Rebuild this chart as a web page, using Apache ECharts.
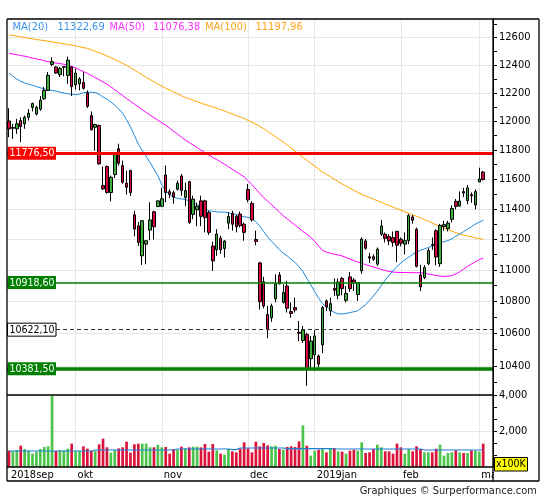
<!DOCTYPE html>
<html><head><meta charset="utf-8">
<script src="https://cdn.jsdelivr.net/npm/echarts@6/dist/echarts.min.js"></script>
<style>html,body{margin:0;padding:0;background:#fff}#c{width:545px;height:500px}</style>
</head><body><div id="c"></div>
<script>
const FONT = "'DejaVu Sans Condensed','Liberation Sans',sans-serif";
const monthNames = ['jan','feb','mar','apr','mei','jun','jul','aug','sep','okt','nov','dec'];
const tradingDays = [
  ['2018-09',[6,7,10,11,12,13,14,17,18,19,20,21,24,25,26,27,28]],
  ['2018-10',[1,2,4,5,8,9,10,11,12,15,16,17,18,19,22,23,24,25,26,29,30,31]],
  ['2018-11',[1,2,5,6,7,8,9,12,13,14,15,16,19,20,21,22,23,26,27,28,29,30]],
  ['2018-12',[3,4,5,6,7,10,11,12,13,14,17,18,19,20,21,27,28]],
  ['2019-01',[2,3,4,7,8,9,10,11,14,15,16,17,18,21,22,23,24,25,28,29,30,31]],
  ['2019-02',[1,4,5,6,7,8,11,12,13,14,15,18,19,20,21,22,25,26,27,28]],
  ['2019-03',[1,4]]
];
const opens = [12000,11950,11946,12004,11981,12027,12096,12050,12084,12158,
12217,12404,12386,12330,12383,12325,12386,12257,12264,12274,
12200,12039,11957,11969,11556,11685,11509,11631,11807,11692,
11572,11658,11360,11287,11091,11167,11259,11380,11415,11417,
11628,11515,11508,11531,11621,11476,11582,11363,11394,11453,
11453,11376,11154,11130,11206,11138,11305,11369,11349,11365,
11298,11529,11436,11197,11045,10924,10716,10696,10815,10967,
10793,10897,10735,10760,10606,10555,10592,10443,10467,10460,
10528,10802,10739,10881,10838,10945,10806,10955,10935,10843,
10994,11188,11085,11085,11037,11232,11232,11216,11210,11251,
11199,11167,11190,11346,11264,10967,10951,11040,11165,11255,
11040,11282,11268,11330,11450,11418,11515,11455,11495,11425,
11580,11647];
const closes = [11945,11955,11981,11962,12027,12055,12124,12096,12147,12217,
12325,12424,12342,12374,12388,12435,12244,12342,12300,12232,
12104,11939,11976,11704,11534,11509,11612,11768,11708,11579,
11545,11509,11266,11178,11321,11189,11326,11281,11453,11467,
11509,11497,11478,11571,11522,11522,11309,11465,11417,11350,
11341,11244,11058,11233,11130,11187,11349,11298,11281,11288,
11244,11460,11326,11185,10797,10770,10622.1,10770,10911,10911,
10856,10756,10723,10745,10600,10620,10381.5,10552,10583,10410,
10760,10765,10785,10870,10922,10880,10850,10880,10918,10918.6,
11200,11140,11076,11069,11134,11286,11205,11188,11178,11160,
11173,11189,11355,11324,11023,10891,11016,11126,11160,11083,
11290,11295,11305,11402,11416,11452,11505,11540,11487,11515,
11600,11597];
const highs = [12090,11980,12016,12027,12039,12084,12131,12108,12177,12241,
12349,12456,12391,12386,12391,12460,12391,12374,12313,12349,
12217,12068,11981,11976,11685,11692,11624,11783,11842,11726,
11658,11663,11387,11313,11326,11193,11443,11387,11454,11541,
11692,11531,11522,11589,11635,11576,11589,11488,11441,11488,
11460,11387,11183,11265,11222,11193,11376,11387,11360,11382,
11309,11567,11450,11255,11052,10955,10770,10785,10972,10986,
10907,10929,10793,10823,10676,10645,10603,10583,10620,10470,
10770,10812,10823,10945,10945,10955,10897,10986,10948,10922,
11211,11200,11110,11101,11145,11325,11243,11232,11250,11253,
11210,11243,11366,11360,11275,11032,11031,11140,11210,11264,
11300,11320,11320,11422,11466,11516,11540,11560,11510,11530,
11677,11655];
const lows = [11888,11876,11911,11853,11946,12004,12068,12039,12073,12149,
12212,12391,12337,12313,12318,12264,12177,12223,12217,12223,
12092,11934,11795,11698,11525,11502,11450,11607,11692,11568,
11496,11486,11218,11154,11032,11036,11193,11197,11411,11411,
11443,11471,11434,11522,11488,11417,11298,11331,11285,11285,
11244,11227,10993,11091,11104,11080,11265,11255,11244,11276,
11189,11443,11315,11159,10749,10755,10570,10671,10793,10907,
10785,10729,10696,10729,10551,10540,10279,10380,10368,10390,
10478,10740,10707,10833,10812,10838,10793,10860,10865,10802,
10975,11130,11045,11058,11026,11220,11178,11160,11150,11050,
11152,11100,11167,11301,11016,10864,10941,11030,11130,11030,
11020,11255,11250,11310,11396,11416,11478,11430,11440,11396,
11580,11590];
const volumes = [907,870,944,1185,1000,907,741,852,1000,1111,
1148,3950,889,944,907,1019,1296,889,889,1148,
1019,889,889,1259,1574,1093,796,944,1037,1093,
1407,796,1259,1296,1296,1296,1093,1093,1241,1093,
1111,741,1000,963,1130,1037,1093,1130,1130,1093,
1278,852,1278,926,741,685,1000,870,815,1019,
1370,1037,815,1407,1148,1333,1200,1150,1180,1000,
963,1111,1148,1111,1426,2315,1185,630,907,963,
1019,815,1056,1056,870,852,741,907,963,907,
1370,778,815,1000,1241,1093,870,870,741,1296,
1093,741,1000,870,1148,1000,815,815,815,1019,
1241,630,778,815,926,815,778,778,926,907,
852,1296];
const volumeAvg = [889,889,889,889,889,889,889,889,889,889,
889,889,889,889,889,889,889,889,889,889,
889,889,944,944,944,944,944,944,944,944,
944,944,944,944,944,944,944,944,944,944,
944,944,944,1000,1000,1000,1000,1000,1000,1000,
1000,1000,1000,1000,1000,1000,1000,963,963,1056,
1056,1056,1056,1056,1056,1056,1056,1056,1056,1056,
1056,1019,1019,1019,1019,1019,1019,1019,1019,1019,
1019,1019,1019,1000,1000,1000,1000,1000,1000,1000,
1000,1000,1000,1000,1000,1000,1000,1000,1000,1000,
1000,1000,1000,1000,1000,1000,944,944,944,944,
944,944,944,944,944,944,944,944,944,944,
944,944];
const ma20 = [12341,12320,12298,12282,12270,12262,12254,12245,12236,12228,
12222,12217,12212,12205,12198,12193,12190,12187,12192,12200,
12204,12204,12202,12190,12170,12155,12135,12112,12086,12055,
12010,11960,11900,11840,11795,11755,11712,11668,11622,11560,
11522,11495,11478,11470,11466,11463,11452,11440,11428,11414,
11400,11388,11383,11380,11378,11378,11374,11368,11360,11352,
11347,11343,11334,11315,11285,11250,11215,11185,11160,11130,
11108,11090,11068,11048,11020,10990,10945,10905,10862,10820,
10785,10765,10745,10730,10721,10720,10723,10729,10734,10740,
10760,10778,10805,10835,10865,10900,10935,10965,10995,11022,
11045,11065,11082,11100,11115,11127,11136,11145,11155,11165,
11175,11183,11190,11202,11218,11233,11249,11265,11282,11298,
11312,11322.69];
const ma50 = [12486,12480,12475,12469,12464,12458,12451,12444,12438,12431,
12424,12419,12414,12410,12405,12400,12390,12378,12365,12353,
12340,12325,12309,12294,12278,12262,12242,12222,12201,12181,
12160,12140,12120,12100,12080,12060,12042,12024,12006,11988,
11970,11950,11929,11909,11888,11868,11850,11833,11815,11798,
11780,11764,11748,11733,11717,11701,11684,11667,11649,11632,
11615,11590,11562,11533,11504,11475,11451,11427,11403,11378,
11354,11333,11312,11292,11271,11250,11232,11212,11185,11155,
11126,11115,11108,11102,11096,11090,11080,11070,11060,11051,
11042,11034,11026,11018,11011,11003,10996,10990,10986,10984,
10983,10983,10983,10982,10982,10982,10978,10973,10969,10964,
10960,10958,10960,10963,10974,10988,11005,11022,11038,11052,
11066,11076.38];
const ma100 = [12620,12616,12611,12606,12600,12595,12591,12586,12582,12578,
12574,12569,12564,12559,12555,12550,12545,12539,12533,12527,
12521,12511,12500,12489,12478,12466,12453,12439,12425,12412,
12398,12381,12363,12346,12329,12311,12295,12279,12263,12248,
12232,12219,12206,12193,12180,12167,12157,12147,12137,12127,
12117,12108,12099,12090,12080,12071,12060,12050,12039,12029,
12018,12005,11992,11978,11963,11947,11928,11909,11890,11872,
11855,11834,11812,11791,11769,11748,11728,11708,11688,11668,
11648,11632,11616,11599,11583,11567,11553,11538,11524,11510,
11496,11485,11475,11464,11454,11443,11432,11422,11411,11401,
11390,11380,11370,11360,11350,11340,11328,11317,11305,11294,
11282,11272,11262,11252,11242,11232,11226,11220,11214,11208,
11203,11197.96];
const levels = [11776.5, 10918.6, 10622.1, 10381.5];
const priceLabelTicks = [10400,10600,10800,11000,11200,11400,11600,11800,12000,12200,12400,12600];
const priceMinorTicks = [10300,10400,10500,10600,10700,10800,10900,11000,11100,11200,11300,11400,11500,11600,11700,11800,11900,12000,12100,12200,12300,12400,12500,12600,12700];
const volLabelTicks = [2000,4000];
const volMinorTicks = [666.67,1333.33,2000,2666.67,3333.33,4000];

// ---- build
const categories = [];
tradingDays.forEach(([ym, ds]) => ds.forEach(d => categories.push(ym + '-' + String(d).padStart(2,'0'))));
const xCats = categories.concat(['', '']);
function ymOf(i){ return categories[i] ? categories[i].slice(0,7) : null; }
function isMonthStart(i){ return i > 0 && i < categories.length && ymOf(i) !== ymOf(i-1); }
function isLabelIdx(i){ return i === 0 || isMonthStart(i); }
function labelFor(i){
  const c = categories[i]; if (!c) return '';
  const y = c.slice(0,4), m = parseInt(c.slice(5,7),10);
  const name = monthNames[m-1];
  return (i === 0 || m === 1) ? y + name : name;
}
const candleData = closes.map((c,i)=>[opens[i], c, lows[i], highs[i]]);
const VOL_UP = '#4cc44c', VOL_DN = '#dc143c';
const volData = volumes.map((v,i)=>({value:v, itemStyle:{color: closes[i] >= opens[i] ? VOL_UP : VOL_DN}}));
const Y_MIN = 10224, Y_MAX = 12738;
const GRID_C = '#e6e6e6';
const fmt = v => v.toFixed(2).replace('.', ',');

const levelStyles = [
  {color:'#ff0000', width:3, type:'solid', box:'#ff0000', text:'#fff', stroke:null},
  {color:'#008000', width:1.5, type:'solid', box:'#008000', text:'#fff', stroke:null},
  {color:'#333333', width:1, type:[4,3], box:'#ffffff', text:'#000', stroke:'#000'},
  {color:'#008000', width:3.5, type:'solid', box:'#008000', text:'#fff', stroke:null}
];

const chart = echarts.init(document.getElementById('c'));
chart.setOption({
  animation:false,
  backgroundColor:'#fff',
  grid:[
    {left:7, top:19, width:486, height:376},
    {left:7, top:395, width:486, height:72}
  ],
  xAxis:[
    {type:'category', gridIndex:0, data:xCats, boundaryGap:true,
     axisLine:{show:false}, axisTick:{show:false}, axisLabel:{show:false},
     splitLine:{show:true, interval:(i)=>isMonthStart(i), alignWithLabel:true, lineStyle:{color:GRID_C, width:1}}},
    {type:'category', gridIndex:1, data:xCats, boundaryGap:true,
     axisLine:{show:false}, axisTick:{show:false},
     axisLabel:{show:true, interval:(i)=>isLabelIdx(i), formatter:(v,i)=>labelFor(i), align:'left', padding:[0,0,0,2], margin:3, color:'#000', fontFamily:FONT, fontSize:11},
     splitLine:{show:true, interval:(i)=>isMonthStart(i), alignWithLabel:true, lineStyle:{color:GRID_C, width:1}}}
  ],
  yAxis:[
    {type:'log', logBase:10, gridIndex:0, position:'right', min:Y_MIN, max:Y_MAX,
     axisLine:{show:true, lineStyle:{color:'#000', width:1}},
     axisTick:{show:true, customValues:priceLabelTicks, length:4, lineStyle:{color:'#000'}},
     axisLabel:{show:true, customValues:priceLabelTicks, formatter:v=>String(Math.round(v)), color:'#000', fontFamily:FONT, fontSize:11, margin:6},
     splitLine:{show:true, lineStyle:{color:GRID_C, width:1}}},
    {type:'log', logBase:10, gridIndex:0, position:'right', min:Y_MIN, max:Y_MAX,
     axisLine:{show:false},
     axisTick:{show:true, customValues:priceMinorTicks, length:4, lineStyle:{color:'#000'}},
     axisLabel:{show:false}, splitLine:{show:false}},
    {type:'value', gridIndex:1, position:'right', min:0, max:4000,
     axisLine:{show:true, lineStyle:{color:'#000', width:1}},
     axisTick:{show:true, customValues:volLabelTicks, length:4, lineStyle:{color:'#000'}},
     axisLabel:{show:true, customValues:volLabelTicks, color:'#000', fontFamily:FONT, fontSize:11, margin:6},
     splitLine:{show:true, lineStyle:{color:GRID_C, width:1}}},
    {type:'value', gridIndex:1, position:'right', min:0, max:4000,
     axisLine:{show:false},
     axisTick:{show:true, customValues:volMinorTicks, length:4, lineStyle:{color:'#000'}},
     axisLabel:{show:false}, splitLine:{show:false}}
  ],
  series:[
    {name:'MA(100)', type:'line', xAxisIndex:0, yAxisIndex:0, data:ma100, showSymbol:false, symbol:'none', lineStyle:{color:'#ffa500', width:1}, z:3},
    {name:'MA(50)', type:'line', xAxisIndex:0, yAxisIndex:0, data:ma50, showSymbol:false, symbol:'none', lineStyle:{color:'#ff00ff', width:1}, z:3},
    {name:'MA(20)', type:'line', xAxisIndex:0, yAxisIndex:0, data:ma20, showSymbol:false, symbol:'none', lineStyle:{color:'#1e88dc', width:1}, z:3},
    {name:'price', type:'candlestick', xAxisIndex:0, yAxisIndex:0, data:candleData, barWidth:3, z:4,
     itemStyle:{color:'#3cb03c', color0:'#d4083c', borderColor:'#000', borderColor0:'#000', borderWidth:1},
     markLine:{silent:true, symbol:'none', animation:false, z:5, label:{show:false},
       data: levels.map((v,k)=>({yAxis:v, lineStyle:{color:levelStyles[k].color, width:levelStyles[k].width, type:levelStyles[k].type}}))}},
    {name:'volume', type:'bar', xAxisIndex:1, yAxisIndex:2, data:volData, barWidth:2.7, z:2},
    {name:'volavg', type:'line', xAxisIndex:1, yAxisIndex:2, data:volumeAvg, showSymbol:false, symbol:'none', lineStyle:{color:'#1e7fd8', width:1.2}, z:3}
  ]
});

// overlay graphics (labels / frame)
const g = [];
const legendItems = [
  {t:'MA(20)', x:12.5, c:'#3a92e6'}, {t:fmt(ma20[ma20.length-1]), x:57.5, c:'#3a92e6'},
  {t:'MA(50)', x:109.5, c:'#ff33ff'}, {t:fmt(ma50[ma50.length-1]), x:153, c:'#ff33ff'},
  {t:'MA(100)', x:205, c:'#ffa41c'}, {t:fmt(ma100[ma100.length-1]), x:255.5, c:'#ffa41c'}
];
legendItems.forEach(it=>g.push({type:'text', z:50, style:{text:it.t, x:it.x, y:27, fill:it.c, font:"11px "+FONT, textVerticalAlign:'middle', verticalAlign:'middle'}}));
levels.forEach((v,k)=>{
  const y = chart.convertToPixel({yAxisIndex:0}, v);
  const s = levelStyles[k];
  g.push({type:'rect', z:50, shape:{x:7.5, y:y-6.5, width:48.5, height:13}, style:{fill:s.box, stroke:s.stroke||null, lineWidth:1}});
  g.push({type:'text', z:51, style:{text:fmt(v), x:9.5, y:y+0.5, fill:s.text, font:"10.5px "+FONT, textVerticalAlign:'middle', verticalAlign:'middle'}});
});
// clip area right of axis in label row
g.push({type:'rect', z:60, shape:{x:494, y:471.5, width:44, height:9}, style:{fill:'#fff'}});
g.push({type:'rect', z:61, shape:{x:494.5, y:457.5, width:33, height:13.5}, style:{fill:'#ffff00', stroke:'#000', lineWidth:1}});
g.push({type:'text', z:62, style:{text:'x100K', x:496, y:464.5, fill:'#000', font:"10.5px "+FONT, textVerticalAlign:'middle', verticalAlign:'middle'}});
// frame
const frameLines = [[7,19,539,19],[7,19,7,481],[7,481,539,481],[539,19,539,481],[493,19,493,481],[7,395,493,395],[7,467,493,467]];
frameLines.forEach(l=>g.push({type:'line', z:70, shape:{x1:l[0],y1:l[1],x2:l[2],y2:l[3]}, style:{stroke:'#000', lineWidth:1.3}}));
g.push({type:'text', z:70, style:{text:'Graphiques © Surperformance.com', x:537, y:491, fill:'#222', font:"11px "+FONT, textAlign:'right', align:'right', textVerticalAlign:'middle', verticalAlign:'middle'}});
chart.setOption({graphic:g});
</script></body></html>
